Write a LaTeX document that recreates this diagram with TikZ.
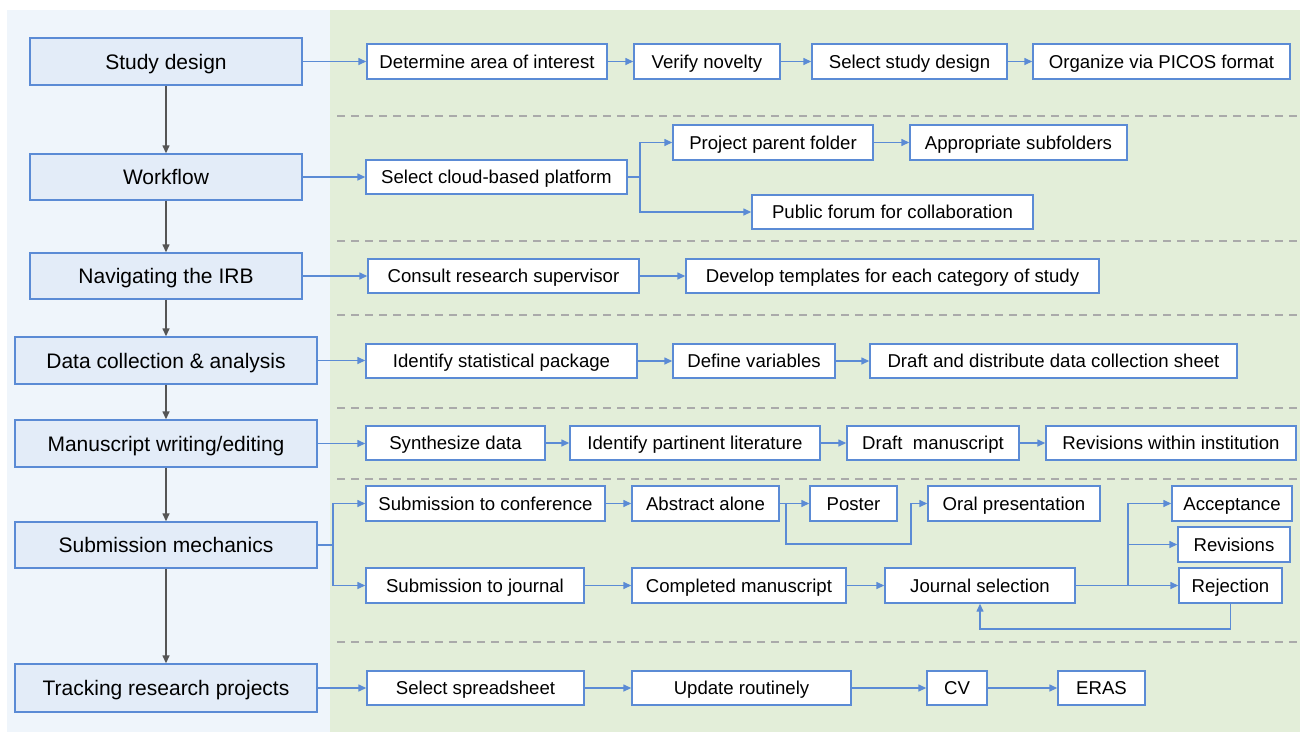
\documentclass[tikz,border=0pt]{standalone}
\usepackage{fontspec}
\setmainfont{Liberation Sans}
\usetikzlibrary{arrows.meta}
\definecolor{panelblue}{HTML}{EFF5FB}
\definecolor{panelgreen}{HTML}{E3EED9}
\definecolor{boxfill}{HTML}{E3ECF8}
\definecolor{bc}{HTML}{5B8BD5}
\definecolor{ga}{HTML}{555555}
\definecolor{dashc}{HTML}{AAAAAA}
\newcommand\bx[7]{\node[#1, minimum width={#4-#2}, minimum height={#5-#3}] (#6) at ({(#2+#4)/2},{(#3+#5)/2}) {#7};}
\tikzset{
  lbox/.style={draw=bc, fill=boxfill, line width=1.4pt, inner sep=0pt, font=\fontsize{21}{25}\selectfont, text height=15pt, text depth=0pt},
  rbox/.style={draw=bc, fill=white, line width=1.4pt, inner sep=0pt, font=\fontsize{18.6}{22}\selectfont, text height=13.3pt, text depth=0pt},
  arr/.style={draw=bc, line width=1.4pt, -{Triangle[length=8pt,width=7pt]}},
  garr/.style={draw=ga, line width=1.4pt, -{Triangle[length=8pt,width=7pt]}},
  sep/.style={draw=dashc, line width=1.2pt, dash pattern=on 8pt off 6pt}
}
\begin{document}
\begin{tikzpicture}[x=1pt,y=-1pt]
\useasboundingbox (0,0) rectangle (1302,732);
\fill[panelblue] (7,10) rectangle (330,732);
\fill[panelgreen] (330,10) rectangle (1300,732);
\foreach \yy in {116,241,315,408,479,642} \draw[sep] (337,\yy) -- (1300,\yy);

% left column
\bx{lbox}{30}{38}{302}{85}{sd}{Study design}
\bx{lbox}{30}{154}{302}{200}{wf}{Workflow}
\bx{lbox}{30}{253}{302}{299}{ir}{Navigating the IRB}
\bx{lbox}{15}{337}{317}{384}{dc}{Data collection \& analysis}
\bx{lbox}{15}{420}{317}{467}{ms}{Manuscript writing/editing}
\bx{lbox}{15}{522}{317}{568}{sm}{Submission mechanics}
\bx{lbox}{15}{664}{317}{712}{tr}{Tracking research projects}

\draw[garr] (sd.south) -- (wf.north);
\draw[garr] (wf.south) -- (ir.north);
\draw[garr] (ir.south) -- (dc.north);
\draw[garr] (dc.south) -- (ms.north);
\draw[garr] (ms.south) -- (sm.north);
\draw[garr] (sm.south) -- (tr.north);

% row 1
\bx{rbox}{367}{44}{607}{79}{a1}{Determine area of interest}
\bx{rbox}{634}{44}{780}{79}{a2}{Verify novelty}
\bx{rbox}{812}{44}{1007}{79}{a3}{Select study design}
\bx{rbox}{1033}{44}{1290}{79}{a4}{Organize via PICOS format}
\draw[arr] (sd.east) -- (a1.west);
\draw[arr] (a1) -- (a2);
\draw[arr] (a2) -- (a3);
\draw[arr] (a3) -- (a4);

% row 2
\bx{rbox}{366}{160}{627}{194}{c1}{Select cloud-based platform}
\bx{rbox}{673}{125}{873}{160}{p1}{Project parent folder}
\bx{rbox}{910}{125}{1127}{160}{p2}{Appropriate subfolders}
\bx{rbox}{752}{195}{1033}{229}{p3}{Public forum for collaboration}
\draw[arr] (wf.east) -- (c1.west);
\coordinate (j1) at (640,177);
\draw[arr] (c1.east) -- (j1) |- (p1.west);
\draw[arr] (j1) |- (p3.west);
\draw[arr] (p1) -- (p2);

% row 3
\bx{rbox}{368}{259}{639}{293}{i1}{Consult research supervisor}
\bx{rbox}{686}{259}{1099}{293}{i2}{Develop templates for each category of study}
\draw[arr] (ir.east) -- (i1.west);
\draw[arr] (i1) -- (i2);

% row 4
\bx{rbox}{366}{344}{637}{378}{d1}{Identify statistical package}
\bx{rbox}{673}{344}{835}{378}{d2}{Define variables}
\bx{rbox}{870}{344}{1237}{378}{d3}{Draft and distribute data collection sheet}
\draw[arr] (dc.east) -- (d1.west |- dc.east);
\draw[arr] (d1) -- (d2);
\draw[arr] (d2) -- (d3);

% row 5
\bx{rbox}{366}{426}{545}{460}{s1}{Synthesize data}
\bx{rbox}{570}{426}{820}{460}{s2}{Identify partinent literature}
\bx{rbox}{847}{426}{1019}{460}{s3}{Draft\ \ manuscript}
\bx{rbox}{1046}{426}{1296}{460}{s4}{Revisions within institution}
\draw[arr] (ms.east) -- (s1.west |- ms.east);
\draw[arr] (s1) -- (s2);
\draw[arr] (s2) -- (s3);
\draw[arr] (s3) -- (s4);

% row 6
\bx{rbox}{366}{486}{605}{521}{sc}{Submission to conference}
\bx{rbox}{366}{568}{584}{603}{sj}{Submission to journal}
\bx{rbox}{632}{486}{779}{521}{ab}{Abstract alone}
\bx{rbox}{810}{486}{897}{521}{po}{Poster}
\bx{rbox}{928}{486}{1100}{521}{op}{Oral presentation}
\bx{rbox}{632}{568}{846}{603}{cm}{Completed manuscript}
\bx{rbox}{885}{568}{1075}{603}{js}{Journal selection}
\bx{rbox}{1172}{486}{1292}{521}{ac}{Acceptance}
\bx{rbox}{1178}{527}{1290}{562}{rv}{Revisions}
\bx{rbox}{1179}{568}{1282}{603}{rj}{Rejection}
\coordinate (j2) at (333,545);
\draw[arr] (sm.east) -- (j2) |- (sc.west);
\draw[arr] (j2) |- (sj.west);
\draw[arr] (sc) -- (ab);
\draw[arr] (ab) -- (po);
\coordinate (j3) at (786,503.5);
\coordinate (k1) at (786,544);
\coordinate (k2) at (911,544);
\draw[arr] (j3) -- (k1) -- (k2) |- (op.west);
\draw[arr] (sj) -- (cm);
\draw[arr] (cm) -- (js);
\draw[arr] (js.east) -- (rj.west);
\coordinate (j4) at (1128,585.5);
\draw[arr] (j4) |- (ac.west);
\draw[arr] (j4) |- (rv.west);
\coordinate (b1) at (1230.5,629);
\draw[arr] (rj.south) -- (b1) -| (js.south);

% row 7
\bx{rbox}{367}{671}{584}{705}{t1}{Select spreadsheet}
\bx{rbox}{632}{671}{851}{705}{t2}{Update routinely}
\bx{rbox}{927}{671}{987}{705}{t3}{CV}
\bx{rbox}{1058}{671}{1145}{705}{t4}{ERAS}
\draw[arr] (tr.east) -- (t1.west);
\draw[arr] (t1) -- (t2);
\draw[arr] (t2) -- (t3);
\draw[arr] (t3) -- (t4);
\end{tikzpicture}
\end{document}
